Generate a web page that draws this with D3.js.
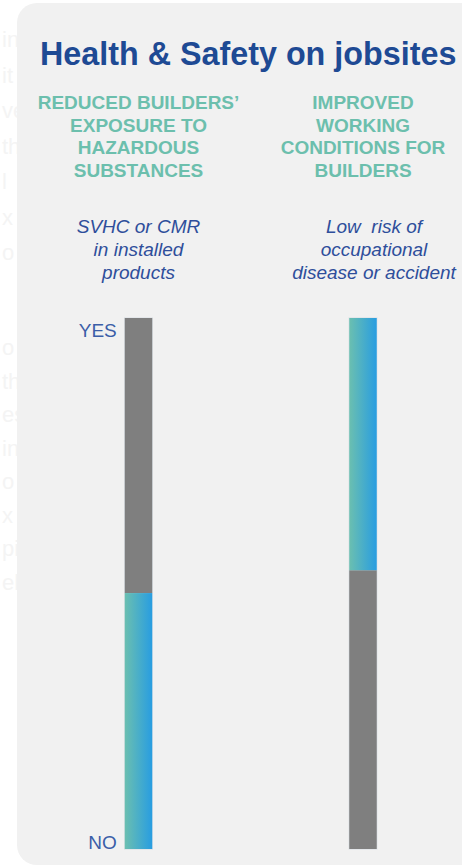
<!DOCTYPE html>
<html>
<head>
<meta charset="utf-8">
<script src="https://cdn.jsdelivr.net/npm/d3@7"></script>
<style>
  html, body { margin: 0; padding: 0; background: #ffffff; }
  svg { display: block; }
</style>
</head>
<body>
<div id="chart"></div>
<script>
// ---- data -------------------------------------------------------------
const title = "Health & Safety on jobsites";
const headings = [
  ["REDUCED BUILDERS’", "EXPOSURE TO", "HAZARDOUS", "SUBSTANCES"],
  ["IMPROVED", "WORKING", "CONDITIONS FOR", "BUILDERS"]
];
const indicators = [
  ["SVHC or CMR", "in installed", "products"],
  ["Low  risk of", "occupational", "disease or accident"]
];
// scale runs from NO (0) to YES (1)
const tickValues = [0, 1];
const tickLabels = ["NO", "YES"];
// favourable end of each indicator and the share of the bar it covers
const favourableEnd = ["NO", "YES"];
const favourableShare = [0.482, 0.475];
// faint text of the neighbouring column, cut off by the page edge
const neighbourText = ["in", "it", "ve", "th", "l", "x", "o",
                       "o", "th", "es", "in", "o", "x", "pi", "ell"];

// ---- layout -----------------------------------------------------------
const W = 462, H = 866;
const svg = d3.select("#chart").append("svg")
  .attr("width", W).attr("height", H);

const defs = svg.append("defs");
const grad = defs.append("linearGradient")
  .attr("id", "barGrad").attr("x1", "0%").attr("x2", "100%")
  .attr("y1", "0%").attr("y2", "0%");
grad.append("stop").attr("offset", "0%").attr("stop-color", "#6bbfb0");
grad.append("stop").attr("offset", "100%").attr("stop-color", "#289de1");

// neighbouring column (mostly hidden behind the panel)
svg.append("g")
  .selectAll("text")
  .data(neighbourText)
  .join("text")
  .attr("x", 2)
  .attr("y", (d, i) => (i < 7 ? 47 + i * 35.5 : 355 + (i - 7) * 33.5))
  .attr("font-family", "Liberation Sans, Arial, sans-serif")
  .attr("font-size", 22)
  .attr("fill", "#f4f4f4")
  .text(d => d);

// panel
svg.append("rect")
  .attr("x", 17).attr("y", 3)
  .attr("width", W + 40).attr("height", 862)
  .attr("rx", 20).attr("ry", 20)
  .attr("fill", "#f1f1f1");

// title
svg.append("text")
  .attr("x", 40).attr("y", 65)
  .attr("font-family", "Liberation Sans, Arial, sans-serif")
  .attr("font-weight", "bold")
  .attr("font-size", 32.3)
  .attr("fill", "#1e4a94")
  .text(title);

// columns
const barWidth = 27.5;
const barCenters = [138.5, 363];
const subtitleCenters = [138.5, 374];

const y = d3.scaleLinear().domain([0, 1]).range([849, 318]);

const cols = svg.append("g")
  .selectAll("g")
  .data(headings)
  .join("g");

cols.each(function (lines, i) {
  const g = d3.select(this);
  // heading
  g.append("text")
    .attr("text-anchor", "middle")
    .attr("font-family", "Liberation Sans, Arial, sans-serif")
    .attr("font-weight", "bold")
    .attr("font-size", 19)
    .attr("fill", "#6cbfad")
    .selectAll("tspan")
    .data(lines)
    .join("tspan")
    .attr("x", barCenters[i])
    .attr("y", (d, k) => 109 + k * 22.7)
    .text(d => d);

  // indicator
  g.append("text")
    .attr("text-anchor", "middle")
    .attr("font-family", "Liberation Sans, Arial, sans-serif")
    .attr("font-style", "italic")
    .attr("font-size", 19)
    .attr("fill", "#2e4e9b")
    .selectAll("tspan")
    .data(indicators[i])
    .join("tspan")
    .attr("x", subtitleCenters[i])
    .attr("y", (d, k) => 232.5 + k * 23)
    .attr("xml:space", "preserve")
    .text(d => d);

  // bar: favourable part in gradient, remainder in grey
  const share = favourableShare[i];
  const good = favourableEnd[i] === "YES" ? [1 - share, 1] : [0, share];
  const bad = favourableEnd[i] === "YES" ? [0, 1 - share] : [share, 1];
  const x0 = barCenters[i] - barWidth / 2;

  g.append("rect")
    .attr("x", x0).attr("width", barWidth)
    .attr("y", y(1)).attr("height", y(0) - y(1))
    .attr("fill", "none")
    .attr("stroke", "#dfe4e8").attr("stroke-width", 1.5);

  g.append("rect")
    .attr("x", x0).attr("width", barWidth)
    .attr("y", y(bad[1])).attr("height", y(bad[0]) - y(bad[1]))
    .attr("fill", "#7f7f7f");

  g.append("rect")
    .attr("x", x0).attr("width", barWidth)
    .attr("y", y(good[1])).attr("height", y(good[0]) - y(good[1]))
    .attr("fill", "url(#barGrad)");
});

// YES / NO axis beside the first bar
const axis = d3.axisLeft(y)
  .tickValues(tickValues)
  .tickFormat((d, i) => tickLabels[i])
  .tickSize(0)
  .tickPadding(0);

const axisG = svg.append("g")
  .attr("transform", `translate(${barCenters[0] - barWidth / 2 - 8},0)`)
  .call(axis);
axisG.select(".domain").remove();
axisG.selectAll("text")
  .attr("font-family", "Liberation Sans, Arial, sans-serif")
  .attr("font-size", 19)
  .attr("fill", "#3b5ea8")
  .attr("dy", d => (d === 1 ? "0.95em" : "-0.05em"));
</script>
</body>
</html>
